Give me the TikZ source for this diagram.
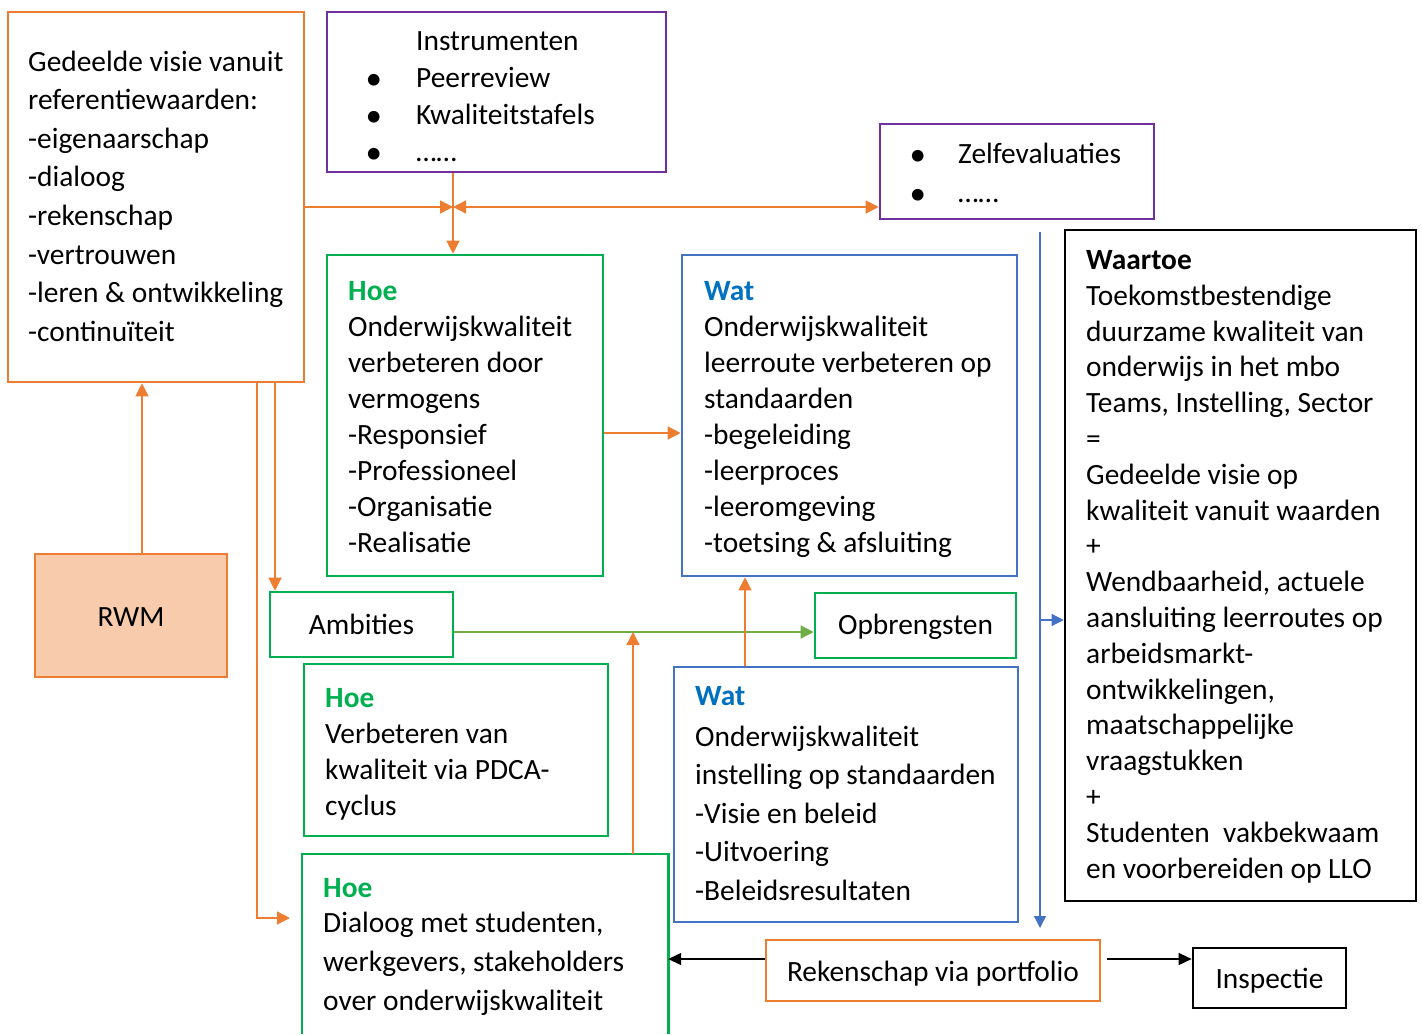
\documentclass[tikz,border=0pt]{standalone}
\usepackage{fontspec}
\setmainfont{Carlito}
\usetikzlibrary{arrows.meta}
\definecolor{cOr}{HTML}{ED7D31}
\definecolor{cGr}{HTML}{00B050}
\definecolor{cLg}{HTML}{70AD47}
\definecolor{cBl}{HTML}{4472C4}
\definecolor{cWat}{HTML}{0070C0}
\definecolor{cPu}{HTML}{7030A0}
\definecolor{cFill}{HTML}{F8CBAD}
\newcommand\mylines[2]{\vtop{\baselineskip=#1pt\lineskiplimit=-100pt\lineskip=0pt #2}}
\newcommand\bul[1]{\llap{\makebox[#1pt][l]{\raisebox{-2pt}{\fontsize{33}{33}\selectfont •}}}}
\newcommand\dropby[2]{\raisebox{-#1pt}[\height][\depth]{#2}}
\tikzset{
  every node/.style={font=\fontsize{29.4}{36}\selectfont, inner sep=0pt},
  bx/.style n args={3}{draw=#1, line width=2.6pt, minimum width=#2, minimum height=#3},
  txt/.style={anchor=base west},
  oarr/.style={draw=cOr, line width=1.3pt, -{Triangle[length=13pt,width=13pt]}},
  garr/.style={draw=cLg, line width=1.3pt, -{Triangle[length=13pt,width=13pt]}},
  barr/.style={draw=cBl, line width=1.3pt, -{Triangle[length=12pt,width=12pt]}},
  karr/.style={draw=black, line width=1.3pt, -{Triangle[length=13pt,width=12pt]}},
}
\begin{document}
\begin{tikzpicture}[x=1pt,y=-1pt]
\useasboundingbox (0,0) rectangle (1422,1034);
% boxes
\node[bx={cOr}{296pt}{370pt}] (visie) at (156,197) {};
\node[bx={cPu}{339pt}{160pt}] (instr) at (496.5,92) {};
\node[bx={cPu}{274pt}{95pt}] (zelf) at (1017,171.5) {};
\node[bx={cGr}{276pt}{321pt}] (hoe1) at (465,415.5) {};
\node[bx={cBl}{335pt}{321pt}] (wat1) at (849.5,415.5) {};
\node[bx={black}{351pt}{671pt}] (waartoe) at (1240.5,565.5) {};
\node[bx={cOr}{192pt}{123pt}, fill=cFill] (rwm) at (131,615.5) {\dropby{1.5}{RWM}};
\node[bx={cGr}{183pt}{65pt}] (amb) at (361.5,624.5) {Ambities};
\node[bx={cGr}{201pt}{65pt}] (opbr) at (915.5,625.5) {\dropby{1.5}{Opbrengsten}};
\node[bx={cGr}{304pt}{172pt}] (hoe2) at (456,750) {};
\node[bx={cBl}{344pt}{255pt}] (wat2) at (846,794.5) {};
\node[minimum width=366pt, minimum height=180pt] (hoe3) at (485,944) {};
\draw[cGr, line width=2.6pt] (hoe3.south west) -- (hoe3.north west) -- (hoe3.north east) -- (hoe3.south east);
\node[bx={cOr}{334pt}{61pt}] (reken) at (933,970.5) {\dropby{3}{Rekenschap via portfolio}};
\node[bx={black}{153pt}{60pt}] (insp) at (1269.5,978) {\dropby{3}{Inspectie}};
% texts
\node[txt] (tvisie) at (28,71) {\mylines{38.6}{%
 \hbox{Gedeelde visie vanuit}\hbox{referentiewaarden:}\hbox{-eigenaarschap}\hbox{-dialoog}%
 \hbox{-rekenschap}\hbox{-vertrouwen}\hbox{-leren \& ontwikkeling}\hbox{-continuïteit}}};
\node[txt] (tinstr) at (416,50) {\mylines{37.3}{%
 \hbox{Instrumenten}\hbox{\bul{50.5}Peerreview}\hbox{\bul{50.5}Kwaliteitstafels}\hbox{\bul{50.5}……}}};
\node[txt] (tzelf) at (958,163) {\mylines{39}{%
 \hbox{\bul{48.6}Zelfevaluaties}\hbox{\bul{48.6}……}}};
\node[txt] (thoe1) at (348,300.5) {\mylines{36}{%
 \hbox{\textcolor{cGr}{\bfseries Hoe}}\hbox{Onderwijskwaliteit}\hbox{verbeteren door}\hbox{vermogens}%
 \hbox{-Responsief}\hbox{-Professioneel}\hbox{-Organisatie}\hbox{-Realisatie}}};
\node[txt] (twat1) at (704,300.5) {\mylines{36}{%
 \hbox{\textcolor{cWat}{\bfseries Wat}}\hbox{Onderwijskwaliteit}\hbox{leerroute verbeteren op}\hbox{standaarden}%
 \hbox{-begeleiding}\hbox{-leerproces}\hbox{-leeromgeving}\hbox{-toetsing \& afsluiting}}};
\node[txt] (twaartoe) at (1086,269.5) {\mylines{35.8}{%
 \hbox{\bfseries Waartoe}\hbox{Toekomstbestendige}\hbox{duurzame kwaliteit van}\hbox{onderwijs in het mbo}%
 \hbox{Teams, Instelling, Sector}\hbox{=}\hbox{Gedeelde visie op}\hbox{kwaliteit vanuit waarden}\hbox{+}%
 \hbox{Wendbaarheid, actuele}\hbox{aansluiting leerroutes op}\hbox{arbeidsmarkt-}\hbox{ontwikkelingen,}%
 \hbox{maatschappelijke}\hbox{vraagstukken}\hbox{+}\hbox{Studenten\ \ vakbekwaam}\hbox{en voorbereiden op LLO}}};
\node[txt] (thoe2) at (325,707) {\mylines{36}{%
 \hbox{\textcolor{cGr}{\bfseries Hoe}}\hbox{Verbeteren van}\hbox{kwaliteit via PDCA-}\hbox{cyclus}}};
\node[txt] (twat2) at (695,705) {\mylines{38.5}{%
 \hbox{\textcolor{cWat}{\bfseries Wat}}\vskip2.5pt\hbox{Onderwijskwaliteit}\hbox{instelling op standaarden}%
 \hbox{-Visie en beleid}\hbox{-Uitvoering}\hbox{-Beleidsresultaten}}};
\node[txt] (thoe3) at (323,897.5) {\mylines{39}{%
 \hbox{\textcolor{cGr}{\bfseries Hoe}}\vskip-4pt\hbox{Dialoog met studenten,}\hbox{werkgevers, stakeholders}\hbox{over onderwijskwaliteit}}};
% coordinates
\coordinate (m) at (453,207);
\coordinate (d1) at (290,918);
\coordinate (j2) at (633,632);
\coordinate (x745) at (745,600);
\coordinate (bt) at (1040,232);
\coordinate (bb) at (1040,928);
\coordinate (bj) at (1040,620);
% connectors
\draw[oarr] (visie.east |- m) -- (m);
\draw[oarr, {Triangle[length=13pt,width=13pt]}-{Triangle[length=13pt,width=13pt]}] (m) -- (zelf.west |- m);
\draw[oarr] (m |- instr.south) -- (m |- hoe1.north);
\draw[oarr] ([xshift=119pt]visie.south) -- ([xshift=119pt]visie.south |- amb.north);
\draw[oarr] ([xshift=101pt]visie.south) |- (d1);
\draw[oarr] ([xshift=11pt]rwm.north) -- ([xshift=11pt]rwm.north |- visie.south);
\draw[oarr] ([yshift=-17.5pt]hoe1.east) -- ([yshift=-17.5pt]hoe1.east -| wat1.west);
\draw[garr] ([yshift=-7.5pt]amb.east) -- ([yshift=-7.5pt]amb.east -| opbr.west);
\draw[oarr] (hoe3.north -| j2) -- (j2);
\draw[oarr] (wat2.north -| x745) -- (wat1.south -| x745);
\draw[barr] (bt) -- (bb);
\draw[barr] (bj) -- (bj -| waartoe.west);
\draw[karr] ([yshift=11.5pt]reken.west) -- ([yshift=11.5pt]reken.west -| hoe3.east);
\draw[karr] ([xshift=6pt,yshift=11.5pt]reken.east) -- ([yshift=11.5pt]reken.east -| insp.west);
\end{tikzpicture}
\end{document}
